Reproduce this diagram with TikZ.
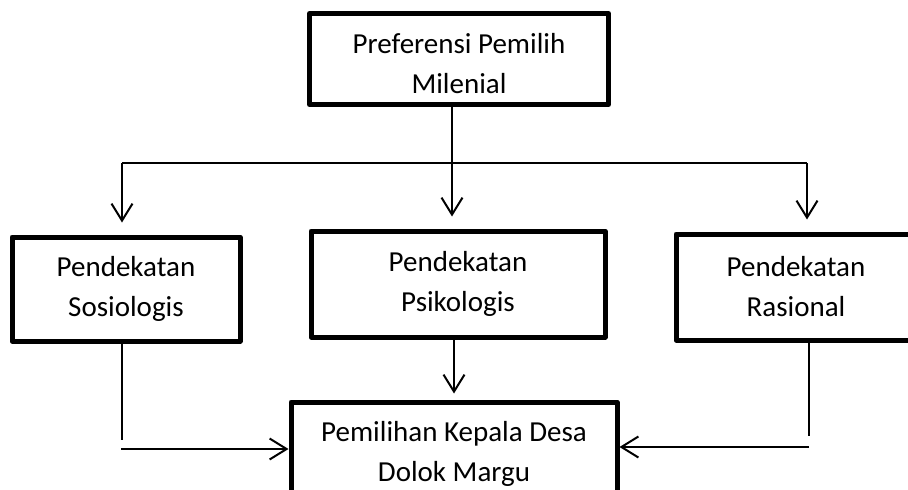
\documentclass[tikz,border=0pt]{standalone}
\usepackage{fontspec}
\setmainfont{Carlito}
\usetikzlibrary{arrows.meta}

\begin{document}
\begin{tikzpicture}[x=1pt,y=-1pt,
  box/.style={draw,line width=5pt,line join=round,align=center,inner sep=0pt,
    font=\fontsize{29}{40}\selectfont},
  arr/.style={line width=2pt,-{Straight Barb[length=17pt,width=21pt]}}]
\useasboundingbox (0,0) rectangle (908,490);

\node[box,minimum width=299pt,minimum height=91pt] (pref) at (459,59) {\rule{0pt}{30pt}Preferensi Pemilih\\Milenial};
\node[box,minimum width=228pt,minimum height=104pt] (sosio) at (126,289) {Pendekatan\\Sosiologis};
\node[box,minimum width=294pt,minimum height=106pt] (psiko) at (458,284) {Pendekatan\\Psikologis};
\node[box,minimum width=240pt,minimum height=106pt] (ras) at (796,287) {Pendekatan\\Rasional};
\node[box,minimum width=326pt,minimum height=104pt] (pem) at (454,454) {Pemilihan Kepala Desa\\Dolok Margu};

\coordinate (jl) at (122,163);
\coordinate (jr) at (807,163);
\coordinate (sd) at (122,440);
\coordinate (sa) at (121,449);
\coordinate (rd) at (809,436);
\coordinate (ra) at (809,447);

% dari preferensi ke tiga pendekatan
\draw[line width=2pt] (jl) -- (jr);
\draw[arr,shorten >=12pt] ([xshift=-7pt]pref.south) -- ([xshift=-6pt]psiko.north);
\draw[arr,shorten >=12pt] (jl) -- (jl |- sosio.north);
\draw[arr,shorten >=12pt] (jr) -- (jr |- ras.north);

% dari pendekatan ke pemilihan
\draw[arr,shorten >=6pt] (psiko.south -| pem.north) -- (pem.north);
\draw[line width=2pt] ([xshift=-4pt]sosio.south) -- (sd);
\draw[arr] (sa) -- (sa -| pem.west);
\draw[line width=2pt] ([xshift=13pt]ras.south) -- (rd);
\draw[arr] (ra) -- (ra -| pem.east);
\end{tikzpicture}
\end{document}
